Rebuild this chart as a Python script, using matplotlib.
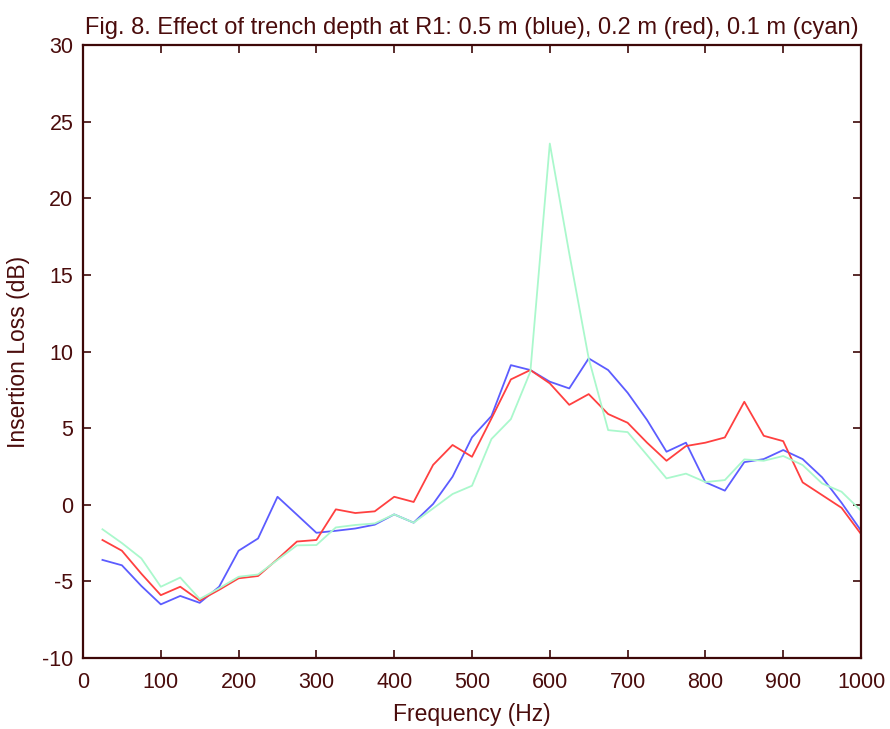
import matplotlib
matplotlib.use("Agg")
import matplotlib.pyplot as plt

freq = list(range(25, 1001, 25))

blue = [-3.6, -3.95, -5.3, -6.5, -5.95, -6.4, -5.35, -3.0, -2.2, 0.52,
        -0.65, -1.83, -1.7, -1.55, -1.3, -0.63, -1.17, 0.05, 1.83, 4.4,
        5.79, 9.11, 8.79, 8.03, 7.59, 9.55, 8.79, 7.31, 5.53, 3.46,
        4.05, 1.47, 0.92, 2.78, 2.98, 3.57, 2.98, 1.79, 0.13, -1.69]

red = [-2.3, -3.0, -4.5, -5.9, -5.35, -6.25, -5.55, -4.8, -4.65, -3.55,
       -2.4, -2.3, -0.3, -0.54, -0.43, 0.52, 0.18, 2.6, 3.9, 3.13,
       5.63, 8.18, 8.79, 7.92, 6.52, 7.22, 5.92, 5.35, 4.05, 2.87,
       3.83, 4.05, 4.39, 6.72, 4.5, 4.15, 1.46, 0.63, -0.2, -1.91]

cyan = [-1.6, -2.5, -3.5, -5.35, -4.75, -6.15, -5.45, -4.7, -4.55, -3.6,
        -2.65, -2.63, -1.48, -1.32, -1.22, -0.63, -1.17, -0.24, 0.7, 1.24,
        4.29, 5.59, 8.68, 23.57, 16.4, 9.55, 4.87, 4.74, 3.24, 1.72,
        2.03, 1.48, 1.61, 2.96, 2.87, 3.18, 2.59, 1.39, 0.85, -0.39]

xticks = list(range(0, 1001, 100))
yticks = list(range(-10, 31, 5))

text_c = "#4a0c0c"
axis_c = "#3d0808"
font = "Liberation Sans"

fig = plt.figure(figsize=(8.9, 7.29), dpi=100)
ax = fig.add_axes([83/890, 1-658/729, (861-83)/890, (658-45)/729])

ax.plot(freq, blue, color="#5c5cff", lw=1.3)
ax.plot(freq, red, color="#ff4040", lw=1.3)
ax.plot(freq, cyan, color="#aaf8cc", lw=1.3)

ax.set_xlim(0, 1000)
ax.set_ylim(-10, 30)
ax.set_xticks(xticks)
ax.set_yticks(yticks)
ax.set_xticklabels([str(v) for v in xticks], family=font, fontsize=15.5, color=text_c)
ax.set_yticklabels([str(v) for v in yticks], family=font, fontsize=15.5, color=text_c)
ax.tick_params(direction="in", length=6, width=1.2, color=axis_c,
               top=True, right=True)
ax.tick_params(axis="x", pad=10)
ax.tick_params(axis="y", pad=7)
for s in ax.spines.values():
    s.set_color(axis_c)
    s.set_linewidth(1.6)

ax.set_xlabel("Frequency (Hz)", family=font, fontsize=16.5, color=text_c, labelpad=7)
ax.set_ylabel("Insertion Loss (dB)", family=font, fontsize=16.5, color=text_c, labelpad=9)
ax.set_title("Fig. 8. Effect of trench depth at R1: 0.5 m (blue), 0.2 m (red), 0.1 m (cyan)",
             family=font, fontsize=17, color=text_c, pad=8)

fig.savefig("out.png", dpi=100)
